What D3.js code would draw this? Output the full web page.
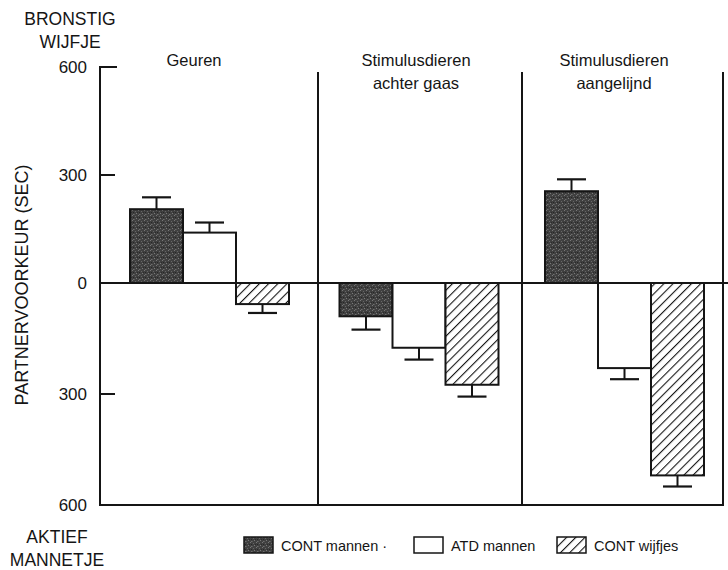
<!DOCTYPE html>
<html>
<head>
<meta charset="utf-8">
<script src="https://cdn.jsdelivr.net/npm/d3@7"></script>
<style>
  body { margin: 0; background: #fff; }
  svg { display: block; font-family: "Liberation Sans", Arial, sans-serif; }
</style>
</head>
<body>
<svg id="chart" width="728" height="570"></svg>
<script>
// DATA
const conditions = ["Geuren", "Stimulusdieren achter gaas", "Stimulusdieren aangelijnd"];
const conditionLines = [["Geuren"], ["Stimulusdieren", "achter gaas"], ["Stimulusdieren", "aangelijnd"]];
const series = ["CONT mannen", "ATD mannen", "CONT wijfjes"];
const legendLabels = ["CONT mannen \u00b7", "ATD mannen", "CONT wijfjes"];
const contMannen = [205, -90, 255];
const contMannenErr = [33, 36, 33];
const atdMannen = [140, -175, -230];
const atdMannenErr = [28, 32, 30];
const contWijfjes = [-57, -275, -520];
const contWijfjesErr = [24, 32, 30];
const yTicks = [600, 300, 0, -300, -600];

const values = [contMannen, atdMannen, contWijfjes];
const errors = [contMannenErr, atdMannenErr, contWijfjesErr];

const svg = d3.select("#chart");
const ink = "#151515";

// SCALES
const y = d3.scaleLinear().domain([-600, 0, 600]).range([505, 283, 67]);
const panelLeft = d3.scaleOrdinal().domain(conditions).range([100, 318, 522]);
const panelRight = d3.scaleOrdinal().domain(conditions).range([318, 522, 723]);
const groupCenter = d3.scaleOrdinal().domain(conditions).range([209.5, 419, 624.5]);
const titleCenter = d3.scaleOrdinal().domain(conditions).range([194, 416, 614]);
const xInner = d3.scaleBand().domain(series).range([-79.5, 79.5]).padding(0);

// PATTERNS
const defs = svg.append("defs");
const dark = defs.append("pattern")
    .attr("id", "dark").attr("patternUnits", "userSpaceOnUse")
    .attr("width", 6).attr("height", 5);
dark.append("rect").attr("width", 6).attr("height", 5).attr("fill", "#404040");
[[0,0,"#777"],[3,1,"#666"],[1,2,"#262626"],[4,3,"#7a7a7a"],[2,4,"#585858"],[5,2,"#2c2c2c"],[1,4,"#6e6e6e"]]
    .forEach(([px, py, c]) => dark.append("rect").attr("x", px).attr("y", py)
        .attr("width", 1).attr("height", 1).attr("fill", c));

const hatch = defs.append("pattern")
    .attr("id", "hatch").attr("patternUnits", "userSpaceOnUse")
    .attr("width", 6.5).attr("height", 6.5)
    .attr("patternTransform", "rotate(45)");
hatch.append("rect").attr("width", 6.5).attr("height", 6.5).attr("fill", "#fff");
hatch.append("line").attr("x1", 0).attr("y1", 0).attr("x2", 0).attr("y2", 6.5)
    .attr("stroke", ink).attr("stroke-width", 2.2);

const fills = ["url(#dark)", "#fff", "url(#hatch)"];

// FRAME
const frame = svg.append("g").attr("stroke", ink).attr("stroke-width", 2).attr("fill", "none");
frame.append("path").attr("d", `M117,${y(600)}H100V${y(-600)}H724`);
frame.append("line").attr("x1", 100).attr("x2", 115).attr("y1", y(300)).attr("y2", y(300));
frame.append("line").attr("x1", 100).attr("x2", 115).attr("y1", y(-300)).attr("y2", y(-300));
conditions.forEach(c => {
    frame.append("line").attr("x1", panelRight(c)).attr("x2", panelRight(c))
        .attr("y1", 72).attr("y2", y(-600));
});

// Y TICK LABELS
svg.append("g").selectAll("text").data(yTicks).join("text")
    .attr("x", 87).attr("y", d => y(d) + 6)
    .attr("text-anchor", "end").attr("font-size", 17).attr("fill", ink)
    .text(d => Math.abs(d));

svg.append("text")
    .attr("transform", `translate(28,${y(0) + 2}) rotate(-90)`)
    .attr("text-anchor", "middle").attr("font-size", 18).attr("fill", ink)
    .text("PARTNERVOORKEUR (SEC)");

[["BRONSTIG", 25, 70], ["WIJFJE", 48, 70], ["AKTIEF", 543, 57], ["MANNETJE", 566, 57]].forEach(([t, ty, tx]) => {
    svg.append("text").attr("x", tx).attr("y", ty).attr("text-anchor", "middle")
        .attr("font-size", 17.5).attr("fill", ink).text(t);
});

// PANEL TITLES
conditions.forEach((c, i) => {
    conditionLines[i].forEach((line, j) => {
        svg.append("text").attr("x", titleCenter(c)).attr("y", 66 + j * 23)
            .attr("text-anchor", "middle").attr("font-size", 16.5).attr("fill", ink)
            .text(line);
    });
});

// BARS + ERROR BARS
series.forEach((s, si) => {
    const rows = conditions.map((c, ci) => ({
        c, v: values[si][ci], e: errors[si][ci],
        x: groupCenter(c) + xInner(s)
    }));
    const mid = d => d.x + xInner.bandwidth() / 2;
    const tip = d => y(d.v + Math.sign(d.v) * d.e);
    const g = svg.append("g");
    g.selectAll("line.err").data(rows).join("line").attr("class", "err")
        .attr("x1", mid).attr("x2", mid)
        .attr("y1", d => y(d.v)).attr("y2", tip)
        .attr("stroke", ink).attr("stroke-width", 2);
    g.selectAll("line.cap").data(rows).join("line").attr("class", "cap")
        .attr("x1", d => mid(d) - 14.5).attr("x2", d => mid(d) + 14.5)
        .attr("y1", tip).attr("y2", tip)
        .attr("stroke", ink).attr("stroke-width", 2.2);
    g.selectAll("rect").data(rows).join("rect")
        .attr("x", d => d.x).attr("width", xInner.bandwidth())
        .attr("y", d => Math.min(y(d.v), y(0))).attr("height", d => Math.abs(y(d.v) - y(0)))
        .attr("fill", fills[si]).attr("stroke", ink).attr("stroke-width", 2);
});

// ZERO LINE
svg.append("line").attr("x1", 100).attr("x2", 728).attr("y1", y(0)).attr("y2", y(0))
    .attr("stroke", ink).attr("stroke-width", 1.8);

// LEGEND
const legendX = [244, 414, 557];
const legend = svg.append("g").selectAll("g").data(series).join("g")
    .attr("transform", (d, i) => `translate(${legendX[i]},537)`);
legend.append("rect").attr("width", 29).attr("height", 16)
    .attr("fill", (d, i) => fills[i]).attr("stroke", ink).attr("stroke-width", 1.5);
legend.append("text").attr("x", 37).attr("y", 14).attr("font-size", 14.5).attr("fill", ink)
    .text((d, i) => legendLabels[i]);
</script>
</body>
</html>
